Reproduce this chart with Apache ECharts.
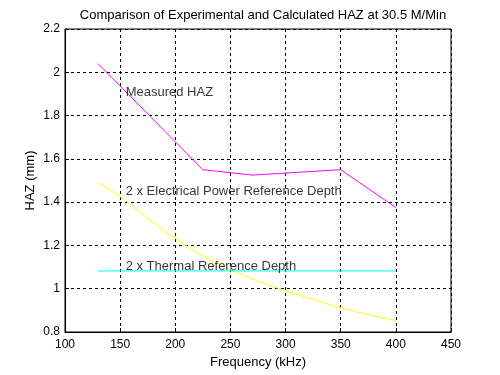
<!DOCTYPE html>
<html>
<head>
<meta charset="utf-8">
<script src="https://cdn.jsdelivr.net/npm/echarts@6/dist/echarts.min.js"></script>
<style>
  html, body { margin: 0; padding: 0; background: #fff; }
  #chart { width: 500px; height: 375px; }
</style>
</head>
<body>
<div id="chart"></div>
<script>
const measuredHaz = [[130, 2.04], [225, 1.55], [270, 1.525], [350, 1.55], [400, 1.375]]
const electricalDepth = [
  [130, 1.49], [150, 1.425], [175, 1.325], [200, 1.232], [225, 1.152], [250, 1.088],
  [275, 1.035], [300, 0.99], [325, 0.95], [350, 0.912], [375, 0.88], [400, 0.852],
]
const thermalDepth = [[130, 1.082], [400, 1.082]]
const annotations = [
  { text: 'Measured HAZ', at: [155, 1.905] },
  { text: '2 x Electrical Power Reference Depth', at: [155, 1.449] },
  { text: '2 x Thermal Reference Depth', at: [155, 1.103] },
]

const font = 'Liberation Sans, Arial, sans-serif'
const dashed = { color: '#000', type: [3, 3], width: 1 }

const chart = echarts.init(document.getElementById('chart'))
chart.setOption({
  animation: false,
  backgroundColor: '#fff',
  textStyle: { fontFamily: font },
  title: {
    text: 'Comparison of Experimental and Calculated HAZ at 30.5 M/Min',
    left: 258,
    top: 4,
    textAlign: 'center',
    textStyle: { fontSize: 13, fontWeight: 'normal', color: '#000', fontFamily: font },
  },
  grid: {
    left: 65, right: 49, top: 29, bottom: 43,
    show: true, borderColor: '#000', borderWidth: 1, backgroundColor: '#fff',
  },
  xAxis: {
    type: 'value', min: 100, max: 450, interval: 50,
    name: 'Frequency (kHz)', nameLocation: 'middle', nameGap: 24, nameMoveOverlap: false,
    nameTextStyle: { fontSize: 13, color: '#000' },
    axisLine: { lineStyle: { color: '#000' } },
    axisTick: { inside: true, length: 4, lineStyle: { color: '#000' } },
    axisLabel: { fontSize: 12, color: '#000', margin: 7 },
    splitLine: { show: true, lineStyle: dashed },
  },
  yAxis: {
    type: 'value', min: 0.8, max: 2.2, interval: 0.2,
    name: 'HAZ (mm)', nameLocation: 'middle', nameGap: 28, nameRotate: 90, nameMoveOverlap: false,
    nameTextStyle: { fontSize: 13, color: '#000' },
    axisLine: { lineStyle: { color: '#000' } },
    axisTick: { inside: true, length: 4, lineStyle: { color: '#000' } },
    axisLabel: { fontSize: 12, color: '#000', margin: 5, formatter: (v) => String(+v.toFixed(1)) },
    splitLine: { show: true, lineStyle: dashed },
  },
  series: [
    {
      type: 'line', data: measuredHaz, symbol: 'none',
      lineStyle: { color: '#ff00ff', width: 1 }, z: 3,
    },
    {
      type: 'line', data: electricalDepth, symbol: 'none', smooth: 0.3,
      lineStyle: { color: '#ffff00', width: 1 }, z: 3,
    },
    {
      type: 'line', data: thermalDepth, symbol: 'none',
      lineStyle: { color: '#00ffff', width: 1 }, z: 3,
    },
    {
      type: 'scatter', symbolSize: 0, silent: true, z: 4,
      data: annotations.map((a) => ({ value: a.at, name: a.text })),
      label: {
        show: true, position: 'right', distance: 0, formatter: '{b}',
        fontSize: 13, color: '#000', fontFamily: font,
      },
    },
  ],
})
</script>
</body>
</html>
